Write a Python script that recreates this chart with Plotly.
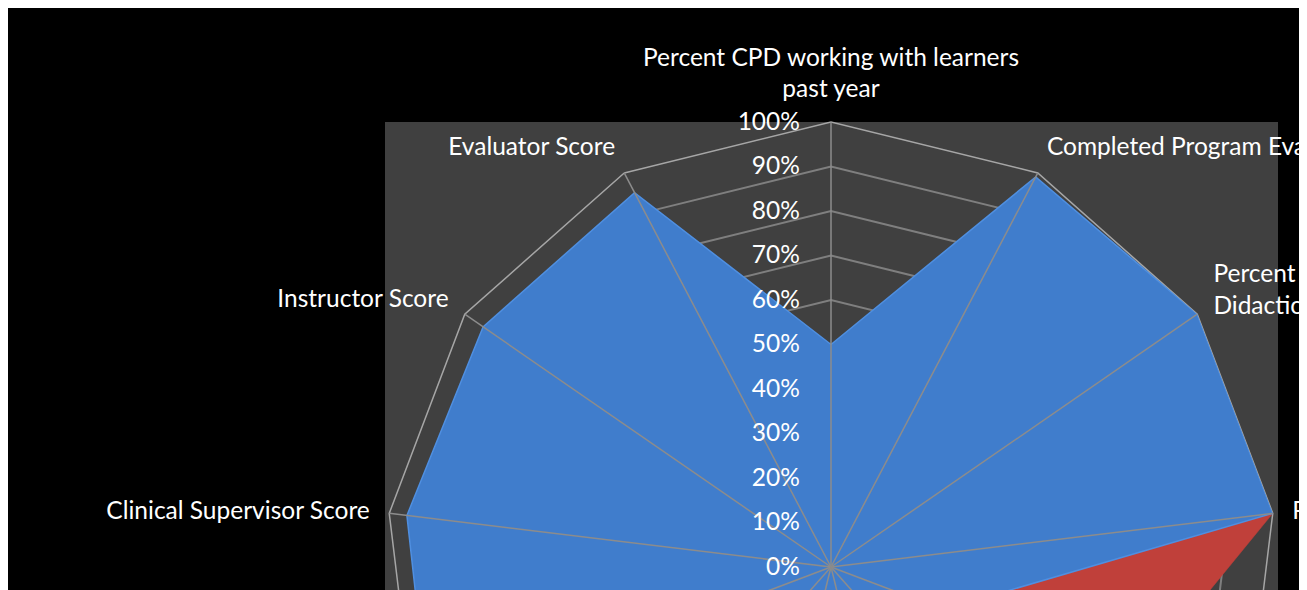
import plotly.graph_objects as go

# Категории по часовой стрелке, начиная сверху
categories = [
    "Percent CPD working with learners<br>past year",
    "Completed Program Evaluation",
    "Percent Time Teaching<br>Didactics",
    "Percent Precepting",
    "Percent Teaching Residents",
    "Percent Teaching Students",
    "Lecture Score",
    "Curriculum Score",
    "Mentor Score",
    "Advisor Score",
    "Clinical Supervisor Score",
    "Instructor Score",
    "Evaluator Score",
]

# Значения серий (доля от 100%)
blue_values = [0.50, 0.99, 1.00, 1.00, 0.27, 0.88, 0.92, 0.94, 0.95, 0.965, 0.96, 0.95, 0.95]
red_values = [0.10, 0.12, 0.15, 1.00, 0.73, 0.20, 0.10, 0.08, 0.10, 0.12, 0.10, 0.10, 0.08]

radial_ticks = [0.0, 0.1, 0.2, 0.3, 0.4, 0.5, 0.6, 0.7, 0.8, 0.9, 1.0]

FONT = "Lato"
FSIZE = 24.5
W, H = 1307, 1020
CX, CY, R = 823, 559, 445  # центр и радиус в пикселях фигуры

fig = go.Figure()

# Красная серия (снизу)
fig.add_trace(go.Scatterpolar(
    r=red_values + red_values[:1],
    theta=categories + categories[:1],
    fill="toself",
    fillcolor="#c0403a",
    line=dict(color="#c0403a", width=0.5),
    mode="lines",
    hoverinfo="skip",
    showlegend=False,
))

# Синяя серия (сверху)
fig.add_trace(go.Scatterpolar(
    r=blue_values + blue_values[:1],
    theta=categories + categories[:1],
    fill="toself",
    fillcolor="#407dcc",
    line=dict(color="#4f8fe0", width=1.5),
    mode="lines",
    hoverinfo="skip",
    showlegend=False,
))

# Лучи поверх заливки
spoke_r, spoke_theta = [], []
for c in categories:
    spoke_r += [0, 1, None]
    spoke_theta += [c, c, None]
fig.add_trace(go.Scatterpolar(
    r=spoke_r,
    theta=spoke_theta,
    mode="lines",
    line=dict(color="#8c8c8c", width=1.5),
    connectgaps=False,
    hoverinfo="skip",
    showlegend=False,
))

fig.update_layout(
    width=W,
    height=H,
    margin=dict(l=0, r=0, t=0, b=0),
    paper_bgcolor="#000000",
    plot_bgcolor="#000000",
    font=dict(family=FONT, size=FSIZE, color="#ffffff"),
    shapes=[dict(
        type="rect", xref="paper", yref="paper",
        x0=377 / W, x1=1270 / W, y0=0, y1=1 - 114 / H,
        fillcolor="#404040", line=dict(width=0), layer="below",
    )],
    polar=dict(
        domain=dict(x=[(CX - R) / W, (CX + R) / W],
                    y=[1 - (CY + R) / H, 1 - (CY - R) / H]),
        bgcolor="rgba(0,0,0,0)",
        gridshape="linear",
        radialaxis=dict(
            range=[0, 1],
            tickvals=radial_ticks,
            tickformat=".0%",
            angle=90,
            side="counterclockwise",
            tickangle=90,
            showline=False,
            ticks="outside",
            ticklen=22,
            tickcolor="rgba(0,0,0,0)",
            gridcolor="#7f7f7f",
            gridwidth=1.5,
            tickfont=dict(family=FONT, size=FSIZE, color="#ffffff"),
            layer="above traces",
        ),
        angularaxis=dict(
            direction="clockwise",
            rotation=90,
            showgrid=False,
            showline=True,
            linecolor="#a6a6a6",
            linewidth=1.5,
            ticks="outside",
            ticklen=14,
            tickcolor="rgba(0,0,0,0)",
            tickfont=dict(family=FONT, size=FSIZE, color="#ffffff"),
            layer="below traces",
        ),
    ),
)

fig.write_html("out.html")
